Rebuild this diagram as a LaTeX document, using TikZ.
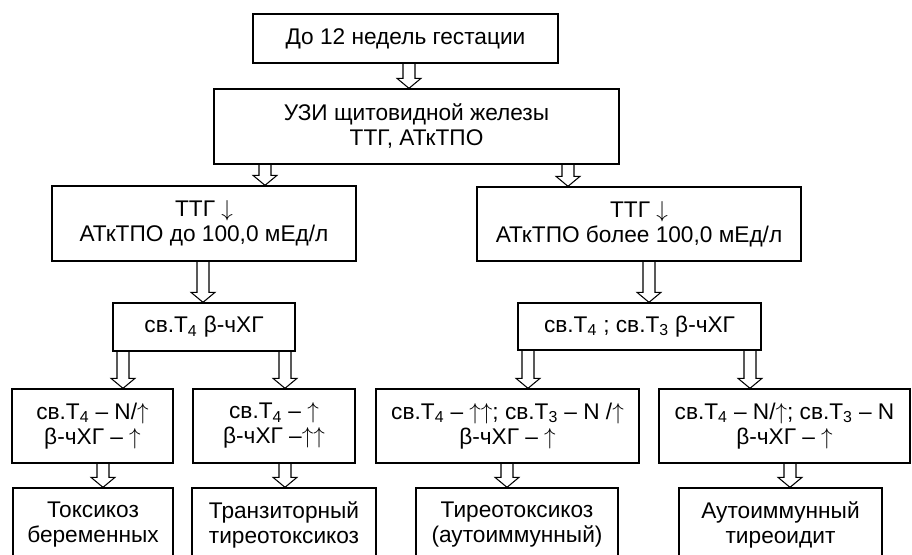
\documentclass[tikz,border=0pt]{standalone}
\usepackage{fontspec}
\setmainfont{Liberation Sans}
\usetikzlibrary{calc}
\tikzset{
  bx/.style 2 args={draw, line width=1pt, inner sep=0pt, align=center, minimum width=#1*0.75pt, minimum height=#2*0.75pt},
  hollow/.style={draw, line width=0.8pt, to path={let \p1=(\tikztostart), \p2=(\tikztotarget) in
    (\x1-4.5pt,\y1) -- (\x1-4.5pt,\y2+7.5pt) -- (\x1-9pt,\y2+7.5pt) -- (\x1,\y2) -- (\x1+9pt,\y2+7.5pt) -- (\x1+4.5pt,\y2+7.5pt) -- (\x1+4.5pt,\y1)}},
}
\newcommand{\sbt}[1]{Т\textsubscript{#1}}
\newcommand{\up}{\smash{$\uparrow$}}
\newcommand{\dn}{\smash{$\downarrow$}}
\begin{document}
\begin{tikzpicture}[x=0.75pt, y=-0.75pt, font=\fontsize{17}{18.75}\selectfont]
  \useasboundingbox (0,0) rectangle (912,555);
  \clip (0,0) rectangle (912,555);
  % Top levels
  \node[bx={305}{49}] (gest) at (405.5,38.5) {До 12 недель гестации};
  \node[bx={405}{75}] (uzi) at (416.5,126.5) {УЗИ щитовидной железы\\ТТГ, АТкТПО};
  \node[bx={304}{75}] (tpoLow) at (204,223.5) {ТТГ \dn\\АТкТПО до 100,0 мЕд/л};
  \node[bx={324}{74}] (tpoHigh) at (639,224) {ТТГ \dn\\АТкТПО более 100,0 мЕд/л};
  % Hormones
  \node[bx={182}{48}] (hormL) at (204,327) {св.\sbt{4} β-чХГ};
  \node[bx={243}{47}] (hormR) at (639.5,326.5) {св.\sbt{4} ; св.\sbt{3} β-чХГ};
  % Results
  \node[bx={161}{74}] (resA) at (92.5,426) {св.\sbt{4} – N/\up\\β-чХГ – \up};
  \node[bx={162}{74}] (resB) at (274,426) {св.\sbt{4} – \up\\β-чХГ –\up\up};
  \node[bx={263}{74}] (resC) at (507.5,426) {св.\sbt{4} – \up\up; св.\sbt{3} – N /\up\\β-чХГ – \up};
  \node[bx={251}{74}] (resD) at (784.5,426) {св.\sbt{4} – N/\up; св.\sbt{3} – N\\β-чХГ – \up};
  % Diagnoses
  \node[bx={160}{74}] (dxA) at (93,525) {Токсикоз\\беременных};
  \node[bx={184}{74}] (dxB) at (284,525) {Транзиторный\\тиреотоксикоз};
  \node[bx={202}{74}] (dxC) at (517,525) {Тиреотоксикоз\\(аутоиммунный)};
  \node[bx={203}{74}] (dxD) at (780.5,525) {Аутоиммунный\\тиреоидит};
  % Block arrows
  \foreach \a/\b/\x in {gest/uzi/409, uzi/tpoLow/265, uzi/tpoHigh/568, tpoLow/hormL/203, tpoHigh/hormR/649,
      hormL/resA/123, hormL/resB/285, hormR/resC/528, hormR/resD/750,
      resA/dxA/103, resB/dxB/285, resC/dxC/507, resD/dxD/790} {
    \coordinate (ax) at (\x,0);
    \draw[hollow] (\a.south -| ax) to (\b.north -| ax);
  }
\end{tikzpicture}
\end{document}
